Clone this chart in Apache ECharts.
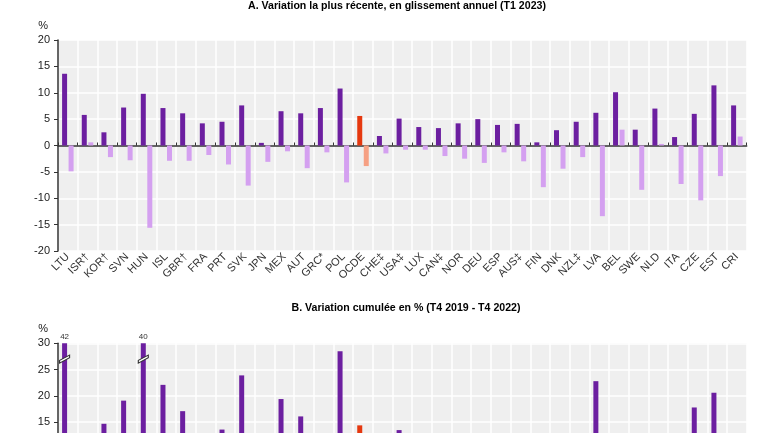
<!DOCTYPE html>
<html><head><meta charset="utf-8">
<script src="https://cdn.jsdelivr.net/npm/echarts@6/dist/echarts.min.js"></script>
<style>html,body{margin:0;padding:0;background:#fff}#c{width:770px;height:433px}</style>
</head><body><div id="c"></div>
<script>
const categories = ['LTU','ISR†','KOR†','SVN','HUN','ISL','GBR†','FRA','PRT','SVK','JPN','MEX','AUT','GRC*','POL','OCDE','CHE‡','USA‡','LUX','CAN‡','NOR','DEU','ESP','AUS‡','FIN','DNK','NZL‡','LVA','BEL','SWE','NLD','ITA','CZE','EST','CRI'];
// Panel A: latest year-on-year change (T1 2023)
const nominalA = [13.6,5.8,2.5,7.2,9.8,7.1,6.1,4.2,4.5,7.6,0.5,6.5,6.1,7.1,10.8,5.6,1.8,5.1,3.5,3.3,4.2,5.0,3.9,4.1,0.6,2.9,4.5,6.2,10.1,3.0,7.0,1.6,6.0,11.4,7.6];
const realA = [-4.9,0.6,-2.2,-2.8,-15.6,-2.9,-2.9,-1.8,-3.6,-7.6,-3.1,-1.1,-4.3,-1.3,-7.0,-3.9,-1.5,-0.8,-0.8,-2.0,-2.5,-3.3,-1.3,-3.0,-7.9,-4.4,-2.2,-13.4,3.0,-8.4,0.3,-7.3,-10.4,-5.8,1.7];
// Panel B: cumulative change T4 2019 - T4 2022 (values under 13 are outside the picture: estimates)
const nominalB = [42,12,14.7,19.1,40,22.1,17.1,9,13.6,23.9,1,19.4,16.1,8,28.5,14.4,5,13.5,10,12,11,9,8,11,8,9,12,22.8,12,8,9,7,17.8,20.6,10];
const realB = categories.map(() => null);
const yTicksA = {min:-20, max:20, interval:5};
const yTicksB = {min:0, max:30, interval:5};
const OECD = 'OCDE';

const C_DARK = '#6C1FA0', C_LIGHT = '#D4A0F0', C_OECD_DARK = '#E5380F', C_OECD_LIGHT = '#F6A083';
const GRID_BG = '#EFEFEF';

function colored(vals, normal, oecd) {
  return vals.map((v, i) => ({value: v, itemStyle: {color: categories[i] === OECD ? oecd : normal}}));
}

function xAxes(gridIndex) {
  return [
    {type:'category', gridIndex, data:categories, position:'bottom',
     axisLine:{show:true, onZero:true, lineStyle:{color:'#333', width:1.5}},
     axisTick:{show:true, interval:0, inside:true, length:3, lineStyle:{color:'#333'}},
     axisLabel:{show:false, interval:0},
     splitLine:{show:true, interval:0, lineStyle:{color:'#fff', width:1.5}}},
    {type:'category', gridIndex, data:categories, position:'bottom',
     axisLine:{show:false, onZero:false}, axisTick:{show:false},
     axisLabel:{show:true, interval:0, rotate:45, fontSize:11, color:'#333', margin:4, fontFamily:'Liberation Sans'},
     splitLine:{show:false}}
  ];
}
function yAxis(gridIndex, t) {
  return {type:'value', gridIndex, min:t.min, max:t.max, interval:t.interval,
    name:'%', nameLocation:'end', nameGap:9,
    nameTextStyle:{align:'right', padding:[0,10,0,0], fontSize:11, color:'#222', fontFamily:'Liberation Sans'},
    axisLine:{show:true, lineStyle:{color:'#333', width:1.5}},
    axisTick:{show:true, length:4, lineStyle:{color:'#333'}},
    axisLabel:{fontSize:11, color:'#222', margin:8, fontFamily:'Liberation Sans'},
    splitLine:{show:true, lineStyle:{color:'#fff', width:1.5}}};
}

const breakMarks = nominalB.map((v, i) => v > yTicksB.max ? {coord:[i, yTicksB.max - 3]} : null).filter(Boolean);

const option = {
  animation:false,
  backgroundColor:'#fff',
  title:[
    {text:'A. Variation la plus récente, en glissement annuel (T1 2023)', left:392, textAlign:'center', top:-4,
     textStyle:{fontSize:10.6, fontWeight:'bold', color:'#000', fontFamily:'Liberation Sans'}},
    {text:'B. Variation cumulée en % (T4 2019 - T4 2022)', left:401, textAlign:'center', top:298,
     textStyle:{fontSize:10.6, fontWeight:'bold', color:'#000', fontFamily:'Liberation Sans'}}
  ],
  grid:[
    {left:58, right:23.3, top:40, bottom:182, show:true, backgroundColor:GRID_BG, borderWidth:0, outerBoundsMode:'none', containLabel:false},
    {left:58, right:23.3, top:343.3, height:157.8, show:true, backgroundColor:GRID_BG, borderWidth:0, outerBoundsMode:'none', containLabel:false}
  ],
  xAxis:[...xAxes(0), ...xAxes(1)],
  yAxis:[yAxis(0, yTicksA), yAxis(1, yTicksB)],
  series:[
    {type:'bar', xAxisIndex:0, yAxisIndex:0, barWidth:5, barGap:'30%', data:colored(nominalA, C_DARK, C_OECD_DARK)},
    {type:'bar', xAxisIndex:0, yAxisIndex:0, barWidth:5, barGap:'30%', data:colored(realA, C_LIGHT, C_OECD_LIGHT)},
    {type:'bar', xAxisIndex:2, yAxisIndex:1, barWidth:5, barGap:'30%', clip:true,
     data:nominalB.map((v, i) => ({value:v, itemStyle:{color: categories[i] === OECD ? C_OECD_DARK : C_DARK},
        label:{show: v > yTicksB.max, position:'top', distance:3, fontSize:8, color:'#333', fontFamily:'Liberation Sans'}})),
     markPoint:{symbol:'path://M0,7 L10,1 L10,4 L0,10 Z', symbolSize:[10,8], silent:true,
       itemStyle:{color:'#fff', borderColor:'#333', borderWidth:1}, label:{show:false}, data:breakMarks}},
    {type:'bar', xAxisIndex:2, yAxisIndex:1, barWidth:5, barGap:'30%', data:colored(realB, C_LIGHT, C_OECD_LIGHT)}
  ]
};
echarts.init(document.getElementById('c'), null, {renderer:'canvas'}).setOption(option);
</script></body></html>
